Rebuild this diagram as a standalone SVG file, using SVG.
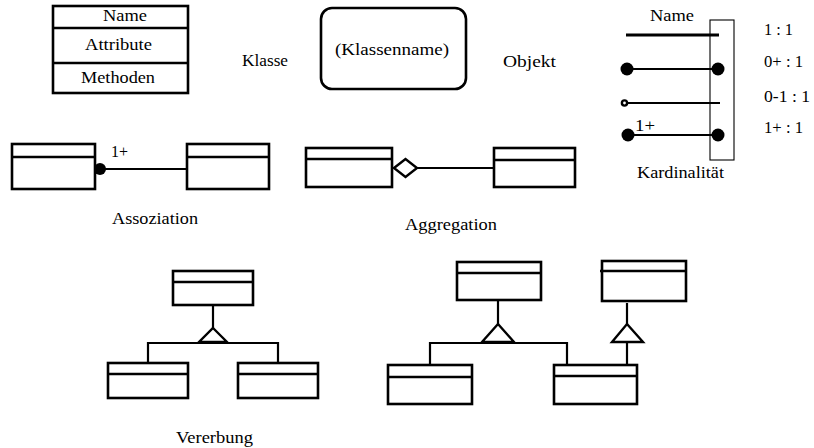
<svg xmlns="http://www.w3.org/2000/svg" width="814" height="448" viewBox="0 0 814 448" font-family="Liberation Serif" font-size="16">
  <style>
    .box { fill: #fff; stroke: #000; stroke-width: 2.6; }
    .div { stroke: #000; stroke-width: 2.4; fill: none; }
    .ln { stroke: #000; stroke-width: 2.2; fill: none; }
    .thin { stroke: #000; stroke-width: 1.1; fill: none; }
    .dot { fill: #000; }
    .hollow { fill: #fff; stroke: #000; stroke-width: 2.4; }
  </style>

  <!-- Class notation -->
  <g id="class-notation">
    <rect class="box" x="53" y="6" width="135" height="87"/>
    <line class="div" x1="53" y1="28" x2="188" y2="28"/>
    <line class="div" x1="53" y1="63" x2="188" y2="63"/>
    <text x="103" y="21" textLength="44" lengthAdjust="spacingAndGlyphs">Name</text>
    <text x="85" y="50" textLength="67" lengthAdjust="spacingAndGlyphs">Attribute</text>
    <text x="81" y="83" textLength="74" lengthAdjust="spacingAndGlyphs">Methoden</text>
  </g>
  <text id="label-klasse" x="242" y="66" textLength="46" lengthAdjust="spacingAndGlyphs">Klasse</text>

  <!-- Object notation -->
  <g id="object-notation">
    <rect class="box" x="321" y="8" width="145" height="81" rx="11" ry="11"/>
    <text x="335" y="55" textLength="114" lengthAdjust="spacingAndGlyphs">(Klassenname)</text>
  </g>
  <text id="label-objekt" x="503" y="67" textLength="53" lengthAdjust="spacingAndGlyphs">Objekt</text>

  <!-- Cardinality legend -->
  <g id="cardinality">
    <text x="650" y="21" textLength="44" lengthAdjust="spacingAndGlyphs">Name</text>
    <rect class="thin" x="710" y="20" width="24" height="140"/>
    <line stroke="#000" stroke-width="2.8" x1="626" y1="35" x2="719" y2="35"/>
    <line class="ln" x1="627" y1="69" x2="718" y2="69"/>
    <circle class="dot" cx="627" cy="69" r="6.5"/>
    <circle class="dot" cx="718" cy="69" r="6.5"/>
    <line class="ln" x1="627" y1="103" x2="720" y2="103"/>
    <circle class="hollow" cx="624.5" cy="103" r="2.6" stroke-width="1.8"/>
    <line class="ln" x1="628" y1="135" x2="718" y2="135"/>
    <circle class="dot" cx="628" cy="135" r="6.5"/>
    <circle class="dot" cx="718" cy="135" r="6.5"/>
    <text x="635" y="131" textLength="20" lengthAdjust="spacingAndGlyphs">1+</text>
    <text x="764" y="35" textLength="29" lengthAdjust="spacingAndGlyphs">1 : 1</text>
    <text x="764" y="67" textLength="39" lengthAdjust="spacingAndGlyphs">0+ : 1</text>
    <text x="764" y="102" textLength="46" lengthAdjust="spacingAndGlyphs">0-1 : 1</text>
    <text x="764" y="133" textLength="39" lengthAdjust="spacingAndGlyphs">1+ : 1</text>
    <text x="637" y="178" textLength="87" lengthAdjust="spacingAndGlyphs">Kardinalität</text>
  </g>

  <!-- Association -->
  <g id="assoc-left">
    <rect class="box" x="12" y="144" width="83" height="45"/>
    <line class="div" x1="12" y1="157" x2="95" y2="157"/>
  </g>
  <g id="assoc-right">
    <rect class="box" x="187" y="144" width="82" height="45"/>
    <line class="div" x1="187" y1="157" x2="269" y2="157"/>
  </g>
  <text id="label-assoziation" x="112" y="224" textLength="86" lengthAdjust="spacingAndGlyphs">Assoziation</text>

  <!-- Aggregation -->
  <g id="aggr-whole">
    <rect class="box" x="306" y="148" width="86" height="39"/>
    <line class="div" x1="306" y1="159" x2="392" y2="159"/>
  </g>
  <g id="aggr-part">
    <rect class="box" x="494" y="148" width="81" height="39"/>
    <line class="div" x1="494" y1="160" x2="575" y2="160"/>
  </g>
  <text id="label-aggregation" x="405" y="230" textLength="92" lengthAdjust="spacingAndGlyphs">Aggregation</text>

  <!-- Inheritance, single level -->
  <g id="inh-super">
    <rect class="box" x="173" y="271" width="80" height="34"/>
    <line class="div" x1="173" y1="282" x2="253" y2="282"/>
  </g>
  <g id="inh-sub-left">
    <rect class="box" x="108" y="363" width="80" height="35"/>
    <line class="div" x1="108" y1="374" x2="188" y2="374"/>
  </g>
  <g id="inh-sub-right">
    <rect class="box" x="238" y="363" width="80" height="35"/>
    <line class="div" x1="238" y1="374" x2="318" y2="374"/>
  </g>
  <text id="label-vererbung" x="176" y="443" textLength="77" lengthAdjust="spacingAndGlyphs">Vererbung</text>

  <!-- Inheritance, two superclasses -->
  <g id="inh2-super-a">
    <rect class="box" x="457" y="262" width="84" height="38"/>
    <line class="div" x1="457" y1="273" x2="541" y2="273"/>
  </g>
  <g id="inh2-super-b">
    <rect class="box" x="602" y="261" width="84" height="40"/>
    <line class="div" x1="600" y1="271" x2="686" y2="271"/>
  </g>
  <g id="inh2-sub-left">
    <rect class="box" x="388" y="365" width="84" height="39"/>
    <line class="div" x1="388" y1="377" x2="472" y2="377"/>
  </g>
  <g id="inh2-sub-right">
    <rect class="box" x="554" y="365" width="83" height="39"/>
    <line class="div" x1="554" y1="376" x2="637" y2="376"/>
  </g>

  <!-- Connectors -->
  <g id="connectors">
    <!-- association with 1+ multiplicity -->
    <line class="ln" x1="100" y1="169" x2="187" y2="169"/>
    <circle class="dot" cx="100" cy="169" r="6"/>
    <text x="111" y="157" textLength="17" lengthAdjust="spacingAndGlyphs">1+</text>

    <!-- aggregation diamond -->
    <line class="ln" x1="417" y1="168" x2="494" y2="168"/>
    <polygon class="hollow" points="394,168 405.5,159 417,168 405.5,177"/>

    <!-- single-level inheritance -->
    <line class="ln" x1="213" y1="305" x2="213" y2="328"/>
    <polygon class="hollow" points="213,328 227,342 199,342"/>
    <polyline class="ln" points="148,363 148,343 278,343 278,363"/>

    <!-- inheritance from superclass A -->
    <line class="ln" x1="498" y1="300" x2="498" y2="324"/>
    <polygon class="hollow" points="498,324 514,342 482,342"/>
    <polyline class="ln" points="430,365 430,343 567,343 567,365"/>

    <!-- inheritance from superclass B -->
    <line class="ln" x1="627" y1="303" x2="627" y2="324"/>
    <polygon class="hollow" points="627,324 643,342 612,342"/>
    <line class="ln" x1="627" y1="342" x2="627" y2="365"/>
  </g>
</svg>
